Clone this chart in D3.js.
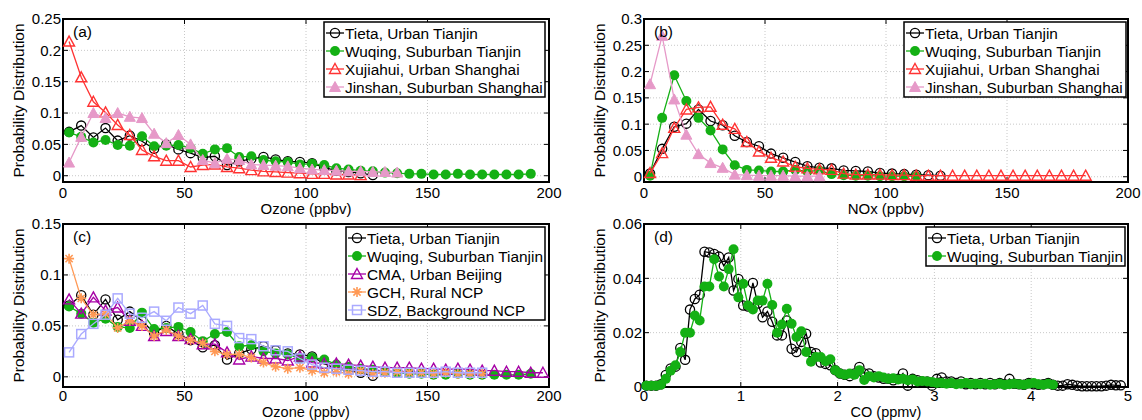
<!DOCTYPE html>
<meta charset="utf-8">
<script src="https://d3js.org/d3.v7.min.js"></script>
<style>
  body { margin: 0; background: #fff; }
  text { font-family: "Liberation Sans", Arial, Helvetica, sans-serif; }
</style>
<div id="chart"></div>
<script>

// ---- data (probability per bin) ----
// ozone / NOx bins are 5 ppbv wide, CO bins 0.05 ppmv wide
var ozoneBin = 5, noxBin = 5, coBin = 0.05;

var tietaO3 = [0.070, 0.080, 0.061, 0.076, 0.056, 0.064, 0.055, 0.043, 0.050, 0.042,
  0.036, 0.029, 0.031, 0.017, 0.023, 0.027, 0.030, 0.026, 0.023, 0.022,
  0.020, 0.013, 0.008, 0.006, 0.004, 0.001];
var wuqingO3 = [0.069, 0.062, 0.053, 0.057, 0.049, 0.048, 0.063, 0.047, 0.048, 0.049,
  0.044, 0.035, 0.042, 0.044, 0.030, 0.031, 0.025, 0.023, 0.022, 0.018,
  0.019, 0.017, 0.012, 0.010, 0.008, 0.007, 0.005, 0.004, 0.003, 0.003,
  0.002, 0.002, 0.003, 0.002, 0.002, 0.002, 0.002, 0.002, 0.003];
var xujiahuiO3 = [0.214, 0.157, 0.118, 0.101, 0.081, 0.065, 0.041, 0.031, 0.024, 0.024,
  0.014, 0.017, 0.018, 0.014, 0.012, 0.009, 0.007, 0.006, 0.005, 0.004,
  0.003, 0.003, 0.002, 0.002, 0.001];
var jinshanO3 = [0.021, 0.062, 0.100, 0.092, 0.100, 0.094, 0.092, 0.067, 0.052, 0.065,
  0.050, 0.025, 0.020, 0.027, 0.025, 0.018, 0.017, 0.016, 0.015, 0.012,
  0.010, 0.009, 0.008, 0.007, 0.007, 0.006, 0.006, 0.005];

var tietaNOx = [0.006, 0.053, 0.095, 0.101, 0.128, 0.106, 0.098, 0.078, 0.066, 0.058,
  0.044, 0.036, 0.028, 0.020, 0.017, 0.016, 0.012, 0.011, 0.010, 0.007,
  0.006, 0.005, 0.004, 0.003, 0.002];
var wuqingNOx = [0.002, 0.112, 0.193, 0.144, 0.112, 0.088, 0.052, 0.022, 0.013, 0.012,
  0.010, 0.010, 0.013, 0.010, 0.012, 0.005, 0.003, 0.002, 0.002, 0.001,
  0.001, 0.001, 0.001];
var xujiahuiNOx = [0.007, 0.045, 0.093, 0.128, 0.132, 0.133, 0.099, 0.091, 0.066, 0.048,
  0.036, 0.029, 0.019, 0.016, 0.014, 0.013, 0.006, 0.004, 0.004, 0.004,
  0.003, 0.003, 0.002, 0.002, 0.002, 0.002, 0.002, 0.002, 0.002, 0.002,
  0.002, 0.002, 0.002, 0.002, 0.002, 0.002, 0.002];
var jinshanNOx = [0.176, 0.268, 0.147, 0.080, 0.043, 0.026, 0.017, 0.004, 0.003, 0.002,
  0.002, 0.002, 0.001, 0.001, 0.001];

var cmaO3 = [0.076, 0.062, 0.078, 0.065, 0.068, 0.055, 0.050, 0.040, 0.045, 0.040,
  0.037, 0.032, 0.032, 0.024, 0.017, 0.020, 0.018, 0.018, 0.016, 0.020,
  0.014, 0.013, 0.013, 0.012, 0.011, 0.010, 0.009, 0.009, 0.009, 0.008,
  0.008, 0.007, 0.008, 0.007, 0.006, 0.006, 0.005, 0.005, 0.004, 0.004];
var gchO3 = [0.116, 0.077, 0.061, 0.062, 0.048, 0.055, 0.050, 0.040, 0.046, 0.040,
  0.036, 0.033, 0.025, 0.022, 0.022, 0.019, 0.014, 0.010, 0.008, 0.009,
  0.006, 0.004, 0.005, 0.003, 0.006, 0.003, 0.004, 0.005, 0.004, 0.004,
  0.003, 0.004, 0.003, 0.003, 0.003];
var sdzO3 = [0.024, 0.042, 0.052, 0.061, 0.077, 0.062, 0.058, 0.064, 0.055, 0.068,
  0.062, 0.070, 0.052, 0.050, 0.038, 0.037, 0.030, 0.026, 0.025, 0.018,
  0.012, 0.009, 0.008, 0.007, 0.006, 0.005, 0.005, 0.004, 0.004, 0.004,
  0.004, 0.005, 0.004, 0.004, 0.004];

var tietaCO = [0.0005, 0.0005, 0.0005, 0.001, 0.0044, 0.0068, 0.0075, 0.0144, 0.010, 0.0285,
  0.0324, 0.034, 0.0498, 0.0495, 0.049, 0.048, 0.0446, 0.0477, 0.0355, 0.0398,
  0.030, 0.0296, 0.0383, 0.0307, 0.0257, 0.0278, 0.024, 0.019, 0.019, 0.0245,
  0.0141, 0.0129, 0.0166, 0.0196, 0.0129, 0.0124, 0.009, 0.0085, 0.008, 0.0062,
  0.005, 0.0045, 0.004, 0.005, 0.0074, 0.005, 0.005, 0.004, 0.0035, 0.003,
  0.003, 0.0025, 0.003, 0.005, 0.0005, 0.003, 0.0025, 0.002, 0.002, 0.0005,
  0.003, 0.0035, 0.002, 0.002, 0.0015, 0.002, 0.001, 0.0015, 0.001, 0.0015,
  0.001, 0.0015, 0.001, 0.0015, 0.001, 0.003, 0.0012, 0.001, 0.0008, 0.0015,
  0.001, 0.0008, 0.001, 0.0015, 0.0008, 0.0005, 0.0005, 0.001, 0.0008, 0.0005,
  0.0003, 0.0003, 0.0003, 0.0003, 0.0003, 0.0005, 0.0008, 0.0006, 0.0006];
var wuqingCO = [0.0005, 0.0005, 0.0005, 0.0008, 0.003, 0.006, 0.008, 0.0129, 0.020, 0.020,
  0.0263, 0.0245, 0.037, 0.037, 0.047, 0.0407, 0.037, 0.0434, 0.0507, 0.033,
  0.038, 0.030, 0.0285, 0.0318, 0.0318, 0.038, 0.0302, 0.020, 0.023, 0.0288,
  0.0233, 0.0184, 0.0205, 0.0129, 0.0093, 0.011, 0.011, 0.0095, 0.0102, 0.0062,
  0.005, 0.0045, 0.005, 0.0045, 0.0062, 0.0026, 0.004, 0.0035, 0.004, 0.0035,
  0.003, 0.0032, 0.0028, 0.003, 0.0025, 0.0028, 0.002, 0.0022, 0.002, 0.0018,
  0.0015, 0.0015, 0.0012, 0.0015, 0.001, 0.0012, 0.0015, 0.001, 0.0012, 0.001,
  0.0012, 0.0008, 0.001, 0.0012, 0.0008, 0.001, 0.0012, 0.001, 0.0008, 0.0012,
  0.0015, 0.001, 0.0008, 0.0012, 0.0008];

// tick values
var ozoneTicks = [0, 50, 100, 150, 200];
var coTicks = [0, 1, 2, 3, 4, 5];
var yTicksA = [0, 0.05, 0.1, 0.15, 0.2, 0.25];
var yTicksB = [0, 0.05, 0.1, 0.15, 0.2, 0.25, 0.3];
var yTicksC = [0, 0.05, 0.1, 0.15];
var yTicksD = [0, 0.02, 0.04, 0.06];

// ---- styles ----
var sty = {
  tieta:    { name: "Tieta, Urban Tianjin",       color: "#000000", mark: "circle" },
  wuqing:   { name: "Wuqing, Suburban Tianjin",   color: "#14b014", mark: "dot" },
  xujiahui: { name: "Xujiahui, Urban Shanghai",   color: "#ff3333", mark: "tri" },
  jinshan:  { name: "Jinshan, Suburban Shanghai", color: "#e699c8", mark: "trifill" },
  cma:      { name: "CMA, Urban Beijing",         color: "#a600a6", mark: "tri" },
  gch:      { name: "GCH, Rural NCP",             color: "#ff9955", mark: "star" },
  sdz:      { name: "SDZ, Background NCP",        color: "#aaaaff", mark: "square" }
};

var svg = d3.select("#chart").append("svg")
  .attr("width", 1142).attr("height", 420);

function drawMarker(g, type, color, x, y) {
  if (type == "circle") {
    g.append("circle").attr("cx", x).attr("cy", y).attr("r", 4.6)
      .attr("fill", "none").attr("stroke", color).attr("stroke-width", 1.3);
  } else if (type == "dot") {
    g.append("circle").attr("cx", x).attr("cy", y).attr("r", 5)
      .attr("fill", color);
  } else if (type == "tri" || type == "trifill") {
    g.append("path")
      .attr("d", "M" + x + "," + (y - 5.5) + "L" + (x + 5.5) + "," + (y + 4.5) + "L" + (x - 5.5) + "," + (y + 4.5) + "Z")
      .attr("fill", type == "trifill" ? color : "none")
      .attr("stroke", color).attr("stroke-width", type == "trifill" ? 1 : 1.4);
  } else if (type == "square") {
    g.append("rect").attr("x", x - 4.5).attr("y", y - 4.5).attr("width", 9).attr("height", 9)
      .attr("fill", "none").attr("stroke", color).attr("stroke-width", 1.5);
  } else if (type == "star") {
    var p = "M" + (x - 5) + "," + y + "h10M" + x + "," + (y - 5) + "v10" +
      "M" + (x - 3.6) + "," + (y - 3.6) + "l7.2,7.2M" + (x - 3.6) + "," + (y + 3.6) + "l7.2,-7.2";
    g.append("path").attr("d", p).attr("stroke", color).attr("stroke-width", 1.6).attr("fill", "none");
  }
}

function drawPanel(p) {
  var x = d3.scaleLinear().domain(p.xDomain).range([p.left, p.right]);
  var y = d3.scaleLinear().domain(p.yDomain).range([p.bottom, p.top]);
  var g = svg.append("g");

  // dotted grid
  g.selectAll(".gx").data(p.xTicks.slice(1, -1)).enter().append("line")
    .attr("x1", function (d) { return x(d); }).attr("x2", function (d) { return x(d); })
    .attr("y1", p.top).attr("y2", p.bottom)
    .attr("stroke", "#c8c8c8").attr("stroke-width", 1).attr("stroke-dasharray", "1,2");
  g.selectAll(".gy").data(p.yTicks).enter().append("line")
    .attr("y1", function (d) { return y(d); }).attr("y2", function (d) { return y(d); })
    .attr("x1", p.left).attr("x2", p.right)
    .attr("stroke", "#c8c8c8").attr("stroke-width", 1).attr("stroke-dasharray", "1,2");

  // inward ticks on all four sides
  p.xTicks.forEach(function (t) {
    g.append("line").attr("x1", x(t)).attr("x2", x(t)).attr("y1", p.bottom).attr("y2", p.bottom - 5).attr("stroke", "#000");
    g.append("line").attr("x1", x(t)).attr("x2", x(t)).attr("y1", p.top).attr("y2", p.top + 5).attr("stroke", "#000");
  });
  p.yTicks.forEach(function (t) {
    g.append("line").attr("y1", y(t)).attr("y2", y(t)).attr("x1", p.left).attr("x2", p.left + 5).attr("stroke", "#000");
    g.append("line").attr("y1", y(t)).attr("y2", y(t)).attr("x1", p.right).attr("x2", p.right - 5).attr("stroke", "#000");
  });

  // box
  g.append("rect").attr("x", p.left).attr("y", p.top)
    .attr("width", p.right - p.left).attr("height", p.bottom - p.top)
    .attr("fill", "none").attr("stroke", "#000").attr("stroke-width", 2);

  // tick labels
  g.selectAll(".xl").data(p.xTicks).enter().append("text")
    .attr("x", function (d) { return x(d); }).attr("y", p.bottom + p.tickDy)
    .attr("text-anchor", "middle").attr("font-size", 15)
    .text(function (d) { return d; });
  g.selectAll(".yl").data(p.yTicks).enter().append("text")
    .attr("x", p.left - 2).attr("y", function (d) { return y(d); })
    .attr("dy", "0.36em").attr("text-anchor", "end").attr("font-size", 15)
    .text(function (d) { return d; });

  // axis labels
  g.append("text").attr("x", (p.left + p.right) / 2).attr("y", p.bottom + p.labelDy)
    .attr("text-anchor", "middle").attr("font-size", p.labelSize).text(p.xLabel);
  g.append("text")
    .attr("transform", "translate(" + (p.left - 39) + "," + ((p.top + p.bottom) / 2) + ") rotate(-90)")
    .attr("text-anchor", "middle").attr("font-size", 15.5).text("Probability Distribution");

  // series
  var line = d3.line().x(function (d) { return x(d.x); }).y(function (d) { return y(d.y); });
  p.series.forEach(function (s) {
    var pts = s.values.map(function (v, i) { return { x: p.bin / 2 + i * p.bin, y: v }; });
    g.append("path").datum(pts).attr("d", line)
      .attr("fill", "none").attr("stroke", s.style.color).attr("stroke-width", 1.3);
    var mg = g.append("g");
    pts.forEach(function (d) { drawMarker(mg, s.style.mark, s.style.color, x(d.x), y(d.y)); });
  });

  // panel label
  g.append("text").attr("x", p.left + 10).attr("y", p.top + 18)
    .attr("font-size", 15.5).text(p.tag);

  // legend
  var lg = svg.append("g");
  lg.append("rect").attr("x", p.legend.x0).attr("y", p.legend.y0)
    .attr("width", p.legend.x1 - p.legend.x0).attr("height", p.series.length * 18 + 3)
    .attr("fill", "#fff").attr("stroke", "#000").attr("stroke-width", 1.5);
  p.series.forEach(function (s, i) {
    var cy = p.legend.y0 + 11 + i * 18, mx = p.legend.x0 + 11;
    lg.append("line").attr("x1", mx - 9).attr("x2", mx + 9).attr("y1", cy).attr("y2", cy)
      .attr("stroke", s.style.color).attr("stroke-width", 1.3);
    drawMarker(lg, s.style.mark, s.style.color, mx, cy);
    lg.append("text").attr("x", mx + 10).attr("y", cy).attr("dy", "0.36em")
      .attr("font-size", 15.4).text(s.style.name);
  });
}

drawPanel({
  tag: "(a)", left: 63, right: 549, top: 19, bottom: 182, tickDy: 16, labelDy: 32, labelSize: 15,
  xDomain: [0, 200], yDomain: [-0.01, 0.25], xTicks: ozoneTicks, yTicks: yTicksA,
  xLabel: "Ozone (ppbv)", bin: ozoneBin,
  legend: { x0: 324, x1: 545, y0: 22 },
  series: [
    { style: sty.tieta, values: tietaO3 },
    { style: sty.wuqing, values: wuqingO3 },
    { style: sty.xujiahui, values: xujiahuiO3 },
    { style: sty.jinshan, values: jinshanO3 }
  ]
});

drawPanel({
  tag: "(b)", left: 644, right: 1128, top: 19, bottom: 182, tickDy: 16, labelDy: 32, labelSize: 15,
  xDomain: [0, 200], yDomain: [-0.01, 0.3], xTicks: ozoneTicks, yTicks: yTicksB,
  xLabel: "NOx (ppbv)", bin: noxBin,
  legend: { x0: 904, x1: 1126, y0: 22 },
  series: [
    { style: sty.tieta, values: tietaNOx },
    { style: sty.wuqing, values: wuqingNOx },
    { style: sty.xujiahui, values: xujiahuiNOx },
    { style: sty.jinshan, values: jinshanNOx }
  ]
});

drawPanel({
  tag: "(c)", left: 63, right: 549, top: 224, bottom: 387, tickDy: 13.5, labelDy: 29.8, labelSize: 14.5,
  xDomain: [0, 200], yDomain: [-0.01, 0.15], xTicks: ozoneTicks, yTicks: yTicksC,
  xLabel: "Ozone (ppbv)", bin: ozoneBin,
  legend: { x0: 346, x1: 545, y0: 227 },
  series: [
    { style: sty.tieta, values: tietaO3 },
    { style: sty.wuqing, values: wuqingO3 },
    { style: sty.cma, values: cmaO3 },
    { style: sty.gch, values: gchO3 },
    { style: sty.sdz, values: sdzO3 }
  ]
});

drawPanel({
  tag: "(d)", left: 644, right: 1128, top: 224, bottom: 387, tickDy: 13.5, labelDy: 29.8, labelSize: 14.5,
  xDomain: [0, 5], yDomain: [0, 0.06], xTicks: coTicks, yTicks: yTicksD,
  xLabel: "CO (ppmv)", bin: coBin,
  legend: { x0: 926, x1: 1125, y0: 227 },
  series: [
    { style: sty.tieta, values: tietaCO },
    { style: sty.wuqing, values: wuqingCO }
  ]
});
</script>
